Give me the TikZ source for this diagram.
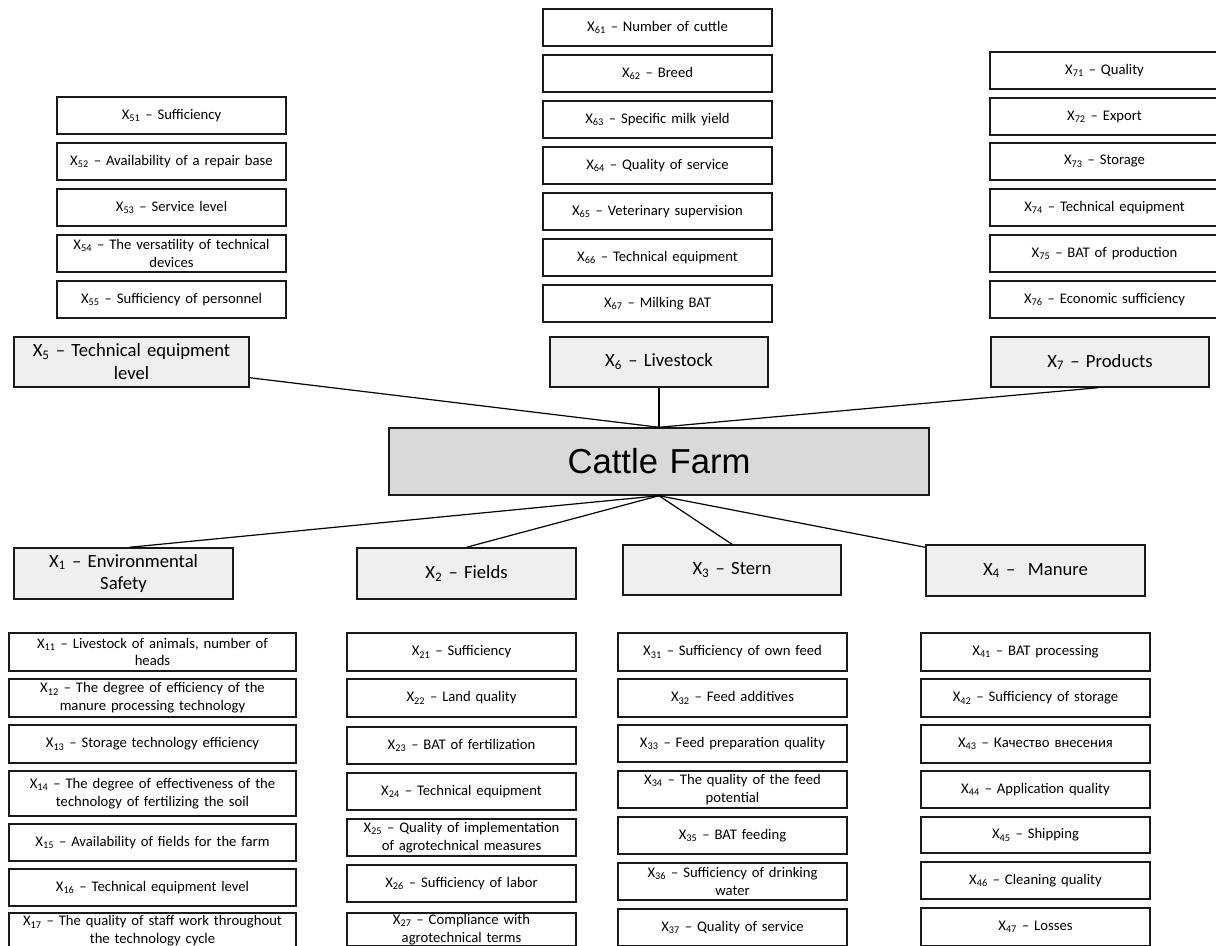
\documentclass[tikz,border=0pt]{standalone}
\usepackage{fontspec}
\setmainfont{Carlito}
\newfontfamily\arialf{Liberation Sans}
\usetikzlibrary{calc}
\definecolor{lvlgray}{HTML}{EFEFEF}
\definecolor{rootgray}{HTML}{D9D9D9}
\newcommand{\X}[1]{X\textsubscript{#1}}
\newcommand{\drawbox}[7]{%
  \pgfmathsetmacro\bw{(#5-#3)*0.75}%
  \pgfmathsetmacro\bh{(#6-#4)*0.75}%
  \pgfmathsetmacro\tw{(#5-#3-6)*0.75}%
  \node[#1, minimum width=\bw pt, minimum height=\bh pt, text width=\tw pt] (#2) at ({(#3+#5)/2},{(#4+#6)/2}) {#7};}
\tikzset{
  leaf/.style={draw=black!90, line width=1.1pt, fill=white, align=center, inner sep=0pt,
    font=\fontsize{11}{13.4}\selectfont},
  lvl/.style={leaf, fill=lvlgray, font=\fontsize{14}{17.2}\selectfont},
  root/.style={leaf, fill=rootgray, font=\arialf\fontsize{26}{30}\selectfont},
  link/.style={line width=0.9pt, black}
}
\begin{document}
\begin{tikzpicture}[x=0.75pt,y=-0.75pt]
\useasboundingbox (0,0) rectangle (1216,945);
% X5 column
\drawbox{leaf}{x51}{57}{97}{286}{134}{\X{51} – Sufficiency}
\drawbox{leaf}{x52}{57}{143}{286}{180}{\X{52} – Availability of a repair base}
\drawbox{leaf}{x53}{57}{189}{286}{226}{\X{53} – Service level}
\drawbox{leaf}{x54}{57}{235}{286}{272}{\X{54} – The versatility of technical\\devices}
\drawbox{leaf}{x55}{57}{281}{286}{318}{\X{55} – Sufficiency of personnel}
% X6 column
\drawbox{leaf}{x61}{543}{9}{772}{46}{\X{61} – Number of cuttle}
\drawbox{leaf}{x62}{543}{55}{772}{92}{\X{62} – Breed}
\drawbox{leaf}{x63}{543}{101}{772}{138}{\X{63} – Specific milk yield}
\drawbox{leaf}{x64}{543}{147}{772}{184}{\X{64} – Quality of service}
\drawbox{leaf}{x65}{543}{193}{772}{230}{\X{65} – Veterinary supervision}
\drawbox{leaf}{x66}{543}{239}{772}{276}{\X{66} – Technical equipment}
\drawbox{leaf}{x67}{543}{285}{772}{322}{\X{67} – Milking BAT}
% X7 column
\drawbox{leaf}{x71}{990}{52}{1219}{89}{\X{71} – Quality}
\drawbox{leaf}{x72}{990}{98}{1219}{135}{\X{72} – Export}
\drawbox{leaf}{x73}{990}{143}{1219}{180}{\X{73} – Storage}
\drawbox{leaf}{x74}{990}{189}{1219}{226}{\X{74} – Technical equipment}
\drawbox{leaf}{x75}{990}{235}{1219}{272}{\X{75} – BAT of production}
\drawbox{leaf}{x76}{990}{281}{1219}{318}{\X{76} – Economic sufficiency}
% level boxes
\drawbox{lvl}{x5}{14}{337}{249}{387}{\X{5} – Technical equipment\\level}
\drawbox{lvl}{x6}{550}{337}{768}{387}{\X{6} – Livestock}
\drawbox{lvl}{x7}{991}{337}{1209}{387}{\X{7} – Products}
\drawbox{root}{cf}{389}{428}{929}{495}{Cattle Farm}
\drawbox{lvl}{x1}{14}{548}{233}{599}{\X{1} – Environmental\\Safety}
\drawbox{lvl}{x2}{357}{548}{576}{599}{\X{2} – Fields}
\drawbox{lvl}{x3}{623}{545}{841}{595}{\X{3} – Stern}
\drawbox{lvl}{x4}{926}{545}{1145}{596}{\X{4} –\ \ Manure}
% connectors
\draw[link] ($(x5.south east)+(0,-10)$) -- (cf.north);
\draw[link] (x6.south) -- (cf.north);
\draw[link] ($(x7.south)+(-2,0)$) -- (cf.north);
\draw[link] (cf.south) -- ($(x1.north)+(6,0)$);
\draw[link] (cf.south) -- (x2.north);
\draw[link] (cf.south) -- (x3.north);
\draw[link] (cf.south) -- ($(x4.north west)+(0,3)$);
% X1 column
\drawbox{leaf}{x11}{9}{633}{296}{671}{\X{11} – Livestock of animals, number of\\heads}
\drawbox{leaf}{x12}{9}{679}{296}{717}{\X{12} – The degree of efficiency of the\\manure processing technology}
\drawbox{leaf}{x13}{9}{725}{296}{763}{\X{13} – Storage technology efficiency}
\drawbox{leaf}{x14}{9}{771}{296}{816}{\X{14} – The degree of effectiveness of the\\technology of fertilizing the soil}
\drawbox{leaf}{x15}{9}{824}{296}{861}{\X{15} – Availability of fields for the farm}
\drawbox{leaf}{x16}{9}{869}{296}{906}{\X{16} – Technical equipment level}
\drawbox{leaf}{x17}{9}{913}{296}{949}{\X{17} – The quality of staff work throughout\\the technology cycle}
% X2 column
\drawbox{leaf}{x21}{347}{633}{576}{671}{\X{21} – Sufficiency}
\drawbox{leaf}{x22}{347}{679}{576}{717}{\X{22} – Land quality}
\drawbox{leaf}{x23}{347}{727}{576}{764}{\X{23} – BAT of fertilization}
\drawbox{leaf}{x24}{347}{773}{576}{810}{\X{24} – Technical equipment}
\drawbox{leaf}{x25}{347}{819}{576}{856}{\X{25} – Quality of implementation\\of agrotechnical measures}
\drawbox{leaf}{x26}{347}{865}{576}{902}{\X{26} – Sufficiency of labor}
\drawbox{leaf}{x27}{347}{913}{576}{946}{\X{27} – Compliance with\\agrotechnical terms}
% X3 column
\drawbox{leaf}{x31}{618}{633}{847}{671}{\X{31} – Sufficiency of own feed}
\drawbox{leaf}{x32}{618}{679}{847}{717}{\X{32} – Feed additives}
\drawbox{leaf}{x33}{618}{725}{847}{762}{\X{33} – Feed preparation quality}
\drawbox{leaf}{x34}{618}{771}{847}{808}{\X{34} – The quality of the feed\\potential}
\drawbox{leaf}{x35}{618}{817}{847}{854}{\X{35} – BAT feeding}
\drawbox{leaf}{x36}{618}{863}{847}{900}{\X{36} – Sufficiency of drinking\\water}
\drawbox{leaf}{x37}{618}{909}{847}{946}{\X{37} – Quality of service}
% X4 column
\drawbox{leaf}{x41}{921}{633}{1150}{671}{\X{41} – BAT processing}
\drawbox{leaf}{x42}{921}{679}{1150}{717}{\X{42} – Sufficiency of storage}
\drawbox{leaf}{x43}{921}{725}{1150}{763}{\X{43} – Качество внесения}
\drawbox{leaf}{x44}{921}{771}{1150}{808}{\X{44} – Application quality}
\drawbox{leaf}{x45}{921}{817}{1150}{853}{\X{45} – Shipping}
\drawbox{leaf}{x46}{921}{862}{1150}{899}{\X{46} – Cleaning quality}
\drawbox{leaf}{x47}{921}{908}{1150}{946}{\X{47} – Losses}
\end{tikzpicture}
\end{document}
